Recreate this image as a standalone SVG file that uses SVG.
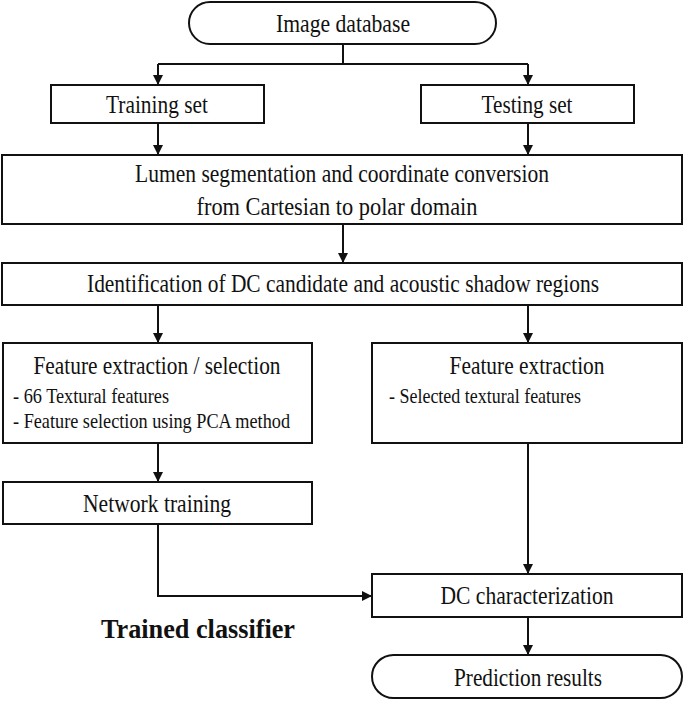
<svg xmlns="http://www.w3.org/2000/svg" width="685" height="704" viewBox="0 0 685 704">
<style>
.b{fill:#fff;stroke:#111;stroke-width:2}
.t{font-family:"Liberation Serif","Times New Roman",serif;font-size:25px;fill:#111;text-anchor:middle}
.s{font-family:"Liberation Serif","Times New Roman",serif;font-size:21px;fill:#111}
.c{fill:none;stroke:#111;stroke-width:2}
</style>
<defs>
<marker id="ah" markerWidth="10" markerHeight="10" refX="10" refY="5" orient="auto" markerUnits="userSpaceOnUse">
<path d="M0,0 L10,5 L0,10 Z" fill="#111"/>
</marker>
</defs>
<rect width="685" height="704" fill="#fff"/>
<g id="connectors">
<path class="c" d="M343,44 V64 M158,64 H528"/>
<path class="c" d="M158,64 V85" marker-end="url(#ah)"/>
<path class="c" d="M528,64 V85" marker-end="url(#ah)"/>
<path class="c" d="M158,123 V155" marker-end="url(#ah)"/>
<path class="c" d="M528,123 V155" marker-end="url(#ah)"/>
<path class="c" d="M343,224 V263" marker-end="url(#ah)"/>
<path class="c" d="M158,305 V343" marker-end="url(#ah)"/>
<path class="c" d="M528,305 V343" marker-end="url(#ah)"/>
<path class="c" d="M158,443 V482" marker-end="url(#ah)"/>
<path class="c" d="M528,443 V574" marker-end="url(#ah)"/>
<path class="c" d="M158,524 V596 H372" marker-end="url(#ah)"/>
<path class="c" d="M528,617 V655" marker-end="url(#ah)"/>
</g>
<g id="image-database">
<rect class="b" x="189" y="2" width="307" height="42" rx="21"/>
<text class="t" x="343" y="32" textLength="134" lengthAdjust="spacingAndGlyphs">Image database</text>
</g>
<g id="training-set">
<rect class="b" x="51" y="85" width="213" height="38"/>
<text class="t" x="157" y="113" textLength="102" lengthAdjust="spacingAndGlyphs">Training set</text>
</g>
<g id="testing-set">
<rect class="b" x="421" y="85" width="213" height="38"/>
<text class="t" x="527" y="113" textLength="91" lengthAdjust="spacingAndGlyphs">Testing set</text>
</g>
<g id="lumen-segmentation">
<rect class="b" x="2" y="155" width="680" height="69"/>
<text class="t" x="342" y="182" textLength="414" lengthAdjust="spacingAndGlyphs">Lumen segmentation and coordinate conversion</text>
<text class="t" x="337" y="215" textLength="281" lengthAdjust="spacingAndGlyphs">from Cartesian to polar domain</text>
</g>
<g id="identification">
<rect class="b" x="2" y="263" width="680" height="42"/>
<text class="t" x="343" y="292" textLength="512" lengthAdjust="spacingAndGlyphs">Identification of DC candidate and acoustic shadow regions</text>
</g>
<g id="feature-extraction-selection">
<rect class="b" x="3" y="343" width="309" height="100"/>
<text class="t" x="157" y="374" textLength="247" lengthAdjust="spacingAndGlyphs">Feature extraction / selection</text>
<text class="s" x="13" y="403" textLength="156" lengthAdjust="spacingAndGlyphs">- 66 Textural features</text>
<text class="s" x="13" y="428" textLength="277" lengthAdjust="spacingAndGlyphs">- Feature selection using PCA method</text>
</g>
<g id="feature-extraction">
<rect class="b" x="372" y="343" width="310" height="100"/>
<text class="t" x="527" y="374" textLength="155" lengthAdjust="spacingAndGlyphs">Feature extraction</text>
<text class="s" x="389" y="403" textLength="192" lengthAdjust="spacingAndGlyphs">- Selected textural features</text>
</g>
<g id="network-training">
<rect class="b" x="3" y="482" width="309" height="42"/>
<text class="t" x="157" y="512" textLength="148" lengthAdjust="spacingAndGlyphs">Network training</text>
</g>
<g id="dc-characterization">
<rect class="b" x="372" y="574" width="310" height="43"/>
<text class="t" x="527" y="604" textLength="173" lengthAdjust="spacingAndGlyphs">DC characterization</text>
</g>
<g id="trained-classifier-label">
<text class="t" x="198" y="638" style="font-weight:bold;font-size:27px" textLength="194" lengthAdjust="spacingAndGlyphs">Trained classifier</text>
</g>
<g id="prediction-results">
<rect class="b" x="372" y="655" width="310" height="43" rx="21.5"/>
<text class="t" x="528" y="686" textLength="148" lengthAdjust="spacingAndGlyphs">Prediction results</text>
</g>
</svg>
